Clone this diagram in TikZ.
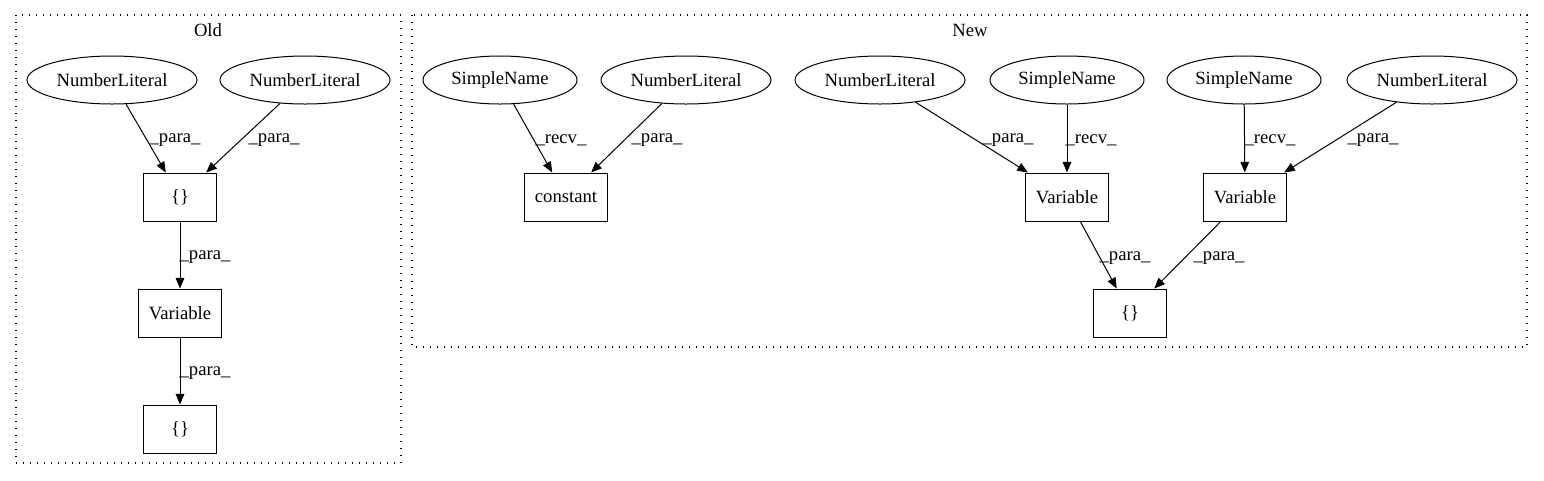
\documentclass[tikz,border=0pt]{standalone}
\usepackage{fontspec}
\setmainfont{Liberation Serif}
\usetikzlibrary{arrows.meta,shapes.geometric}
\begin{document}
\begin{tikzpicture}[x=0.75pt,y=-0.75pt,
  every node/.style={font=\fontsize{14}{16}\selectfont},
  ell/.style={draw,ellipse,minimum height=36pt,inner sep=0pt,line width=0.75pt},
  nl/.style={ell,minimum width=127.5pt},
  sn/.style={ell,minimum width=115.5pt},
  box/.style={draw,rectangle,minimum height=36pt,inner sep=0pt,line width=0.75pt},
  bsmall/.style={box,minimum width=54.75pt},
  bwide/.style={box,minimum width=62.25pt},
  edge/.style={-{Triangle[length=8pt,width=6.5pt]},line width=0.75pt},
  lbl/.style={inner sep=0pt},
  cluster/.style={draw,dash pattern=on 1pt off 4.25pt,line width=1pt}]
\useasboundingbox (0,0) rectangle (1544,480);
% clusters
\draw[cluster] (16,15) rectangle (401,463);
\node[lbl] (oldt) at (208,30) {Old};
\draw[cluster] (412,15) rectangle (1527,347);
\node[lbl] (newt) at (970,30) {New};
% Old
\node[nl] (o1) at (112,80) {NumberLiteral};
\node[nl] (o2) at (305,80) {NumberLiteral};
\node[bsmall] (ob1) at (180,197) {\{\}};
\node[bwide] (ov) at (180,313) {Variable};
\node[bsmall] (ob2) at (180,429) {\{\}};
\draw[edge] (o1) -- (ob1);
\draw[edge] (o2) -- (ob1);
\draw[edge] (ob1) -- (ov);
\draw[edge] (ov) -- (ob2);
\node[lbl] (ol1) at (175,140) {\_para\_};
\node[lbl] (ol2) at (274,140) {\_para\_};
\node[lbl] (ol3) at (205,257) {\_para\_};
\node[lbl] (ol4) at (205,373) {\_para\_};
% New
\node[sn] (n1) at (500,80) {SimpleName};
\node[nl] (n2) at (686,80) {NumberLiteral};
\node[bwide] (nc) at (566,197) {constant};
\node[nl] (n3) at (880,80) {NumberLiteral};
\node[sn] (n4) at (1067,80) {SimpleName};
\node[sn] (n5) at (1244,80) {SimpleName};
\node[nl] (n6) at (1432,80) {NumberLiteral};
\node[bwide] (nv1) at (1067,197) {Variable};
\node[bwide] (nv2) at (1245,197) {Variable};
\node[bsmall] (nb) at (1130,313) {\{\}};
\draw[edge] (n1) -- (nc);
\draw[edge] (n2) -- (nc);
\draw[edge] (n3) -- (nv1);
\draw[edge] (n4) -- (nv1);
\draw[edge] (n5) -- (nv2);
\draw[edge] (n6) -- (nv2);
\draw[edge] (nv1) -- (nb);
\draw[edge] (nv2) -- (nb);
\node[lbl] (nl1) at (561,140) {\_recv\_};
\node[lbl] (nl2) at (657,140) {\_para\_};
\node[lbl] (nl3) at (1008,140) {\_para\_};
\node[lbl] (nl4) at (1091,140) {\_recv\_};
\node[lbl] (nl5) at (1270,140) {\_recv\_};
\node[lbl] (nl6) at (1373,140) {\_para\_};
\node[lbl] (nl7) at (1125,258) {\_para\_};
\node[lbl] (nl8) at (1219,258) {\_para\_};
\end{tikzpicture}
\end{document}
